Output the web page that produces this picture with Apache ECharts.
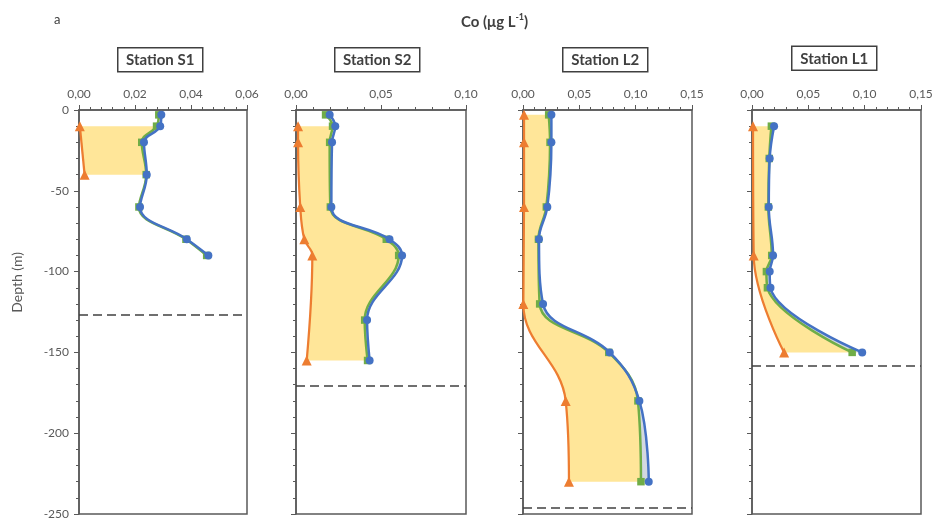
<!DOCTYPE html>
<html>
<head>
<meta charset="utf-8">
<script src="https://cdn.jsdelivr.net/npm/echarts@6/dist/echarts.min.js"></script>
<style>html,body{margin:0;padding:0;background:#fff}#c{width:939px;height:524px}</style>
</head>
<body>
<div id="c"></div>
<script>
// ---- Data ----
const stationNames = ['Station S1', 'Station S2', 'Station L2', 'Station L1'];
const xMax = [0.06, 0.10, 0.15, 0.15];
const xStep = [0.02, 0.05, 0.05, 0.05];
const mixedLayerDepth = [-127, -170.5, -246, -158];

const depthS1 = [-3, -10, -20, -40, -60, -80, -90];
const blueS1  = [0.0294, 0.0290, 0.0232, 0.0242, 0.0218, 0.0385, 0.0462];
const greenS1 = [0.0285, 0.0277, 0.0224, 0.0240, 0.0214, 0.0382, 0.0456];
const orangeDepthS1 = [-10, -40];
const orangeS1 = [0.0003, 0.0020];

const depthS2 = [-3, -10, -20, -60, -80, -90, -130, -155];
const blueS2  = [0.0198, 0.0231, 0.0212, 0.0208, 0.0550, 0.0624, 0.0418, 0.0433];
const greenS2 = [0.0174, 0.0215, 0.0198, 0.0202, 0.0531, 0.0604, 0.0404, 0.0421];
const orangeDepthS2 = [-10, -20, -60, -80, -90, -155];
const orangeS2 = [0.0012, 0.0012, 0.0025, 0.0049, 0.0096, 0.0063];

const depthL2 = [-3, -20, -60, -80, -120, -150, -180, -230];
const blueL2  = [0.0252, 0.0252, 0.0216, 0.0142, 0.0178, 0.0770, 0.1033, 0.1116];
const greenL2 = [0.0228, 0.0240, 0.0207, 0.0137, 0.0148, 0.0761, 0.1020, 0.1047];
const orangeDepthL2 = [-3, -20, -60, -120, -180, -230];
const orangeL2 = [0.0009, 0.0009, 0.0009, 0.0003, 0.0379, 0.0408];

const depthL1 = [-10, -30, -60, -90, -100, -110, -150];
const blueL1  = [0.0196, 0.0157, 0.0149, 0.0187, 0.0157, 0.0164, 0.0978];
const greenL1 = [0.0172, 0.0153, 0.0145, 0.0175, 0.0128, 0.0137, 0.0889];
const orangeDepthL1 = [-10, -90, -150];
const orangeL1 = [0.0009, 0.0015, 0.0285];

// ---- Build ----
const stations = [
  {depth: depthS1, blue: blueS1, green: greenS1, oDepth: orangeDepthS1, orange: orangeS1},
  {depth: depthS2, blue: blueS2, green: greenS2, oDepth: orangeDepthS2, orange: orangeS2},
  {depth: depthL2, blue: blueL2, green: greenL2, oDepth: orangeDepthL2, orange: orangeL2},
  {depth: depthL1, blue: blueL1, green: greenL1, oDepth: orangeDepthL1, orange: orangeL1}
];

const SMOOTH = 0.4;
const gridLeft = [79, 296, 523, 752];
const gridWidth = [168, 170, 169, 169];
const boxLeft = [117, 334, 562, 791];
const boxTop = [47, 47, 47, 45.5];

const AX = '#595959';
const FONT = 'Lato, "Open Sans", sans-serif';

function zip(vals, depths) { return vals.map((v, k) => [v, depths[k]]); }

// mirror of ECharts line smoothing, sampled into points
function sampleSmooth(pts, smooth) {
  const out = [];
  let prevX, prevY, cpx0, cpy0, cpx1, cpy1, nextCpx0, nextCpy0;
  const n = pts.length;
  const N = 20;
  for (let i = 0; i < n; i++) {
    const x = pts[i][0], y = pts[i][1];
    if (i === 0) {
      out.push([x, y]); cpx0 = x; cpy0 = y;
    } else {
      if (i + 1 >= n) {
        cpx1 = x; cpy1 = y; nextCpx0 = x; nextCpy0 = y;
      } else {
        const nextX = pts[i + 1][0], nextY = pts[i + 1][1];
        let vx = nextX - prevX, vy = nextY - prevY;
        const dx0 = x - prevX, dx1 = nextX - x, dy0 = y - prevY, dy1 = nextY - y;
        const lp = Math.sqrt(dx0 * dx0 + dy0 * dy0);
        const ln = Math.sqrt(dx1 * dx1 + dy1 * dy1);
        const r = ln / (ln + lp);
        nextCpx0 = x + vx * smooth * r;
        nextCpy0 = y + vy * smooth * r;
        nextCpx0 = Math.min(nextCpx0, Math.max(nextX, x));
        nextCpy0 = Math.min(nextCpy0, Math.max(nextY, y));
        nextCpx0 = Math.max(nextCpx0, Math.min(nextX, x));
        nextCpy0 = Math.max(nextCpy0, Math.min(nextY, y));
        vx = nextCpx0 - x; vy = nextCpy0 - y;
        cpx1 = x - vx * lp / ln;
        cpy1 = y - vy * lp / ln;
        cpx1 = Math.min(cpx1, Math.max(prevX, x));
        cpy1 = Math.min(cpy1, Math.max(prevY, y));
        cpx1 = Math.max(cpx1, Math.min(prevX, x));
        cpy1 = Math.max(cpy1, Math.min(prevY, y));
        vx = x - cpx1; vy = y - cpy1;
        nextCpx0 = x + vx * ln / lp;
        nextCpy0 = y + vy * ln / lp;
      }
      for (let s = 1; s <= N; s++) {
        const t = s / N, u = 1 - t;
        const bx = u*u*u*prevX + 3*u*u*t*cpx0 + 3*u*t*t*cpx1 + t*t*t*x;
        const by = u*u*u*prevY + 3*u*u*t*cpy0 + 3*u*t*t*cpy1 + t*t*t*y;
        out.push([bx, by]);
      }
      cpx0 = nextCpx0; cpy0 = nextCpy0;
    }
    prevX = x; prevY = y;
  }
  return out;
}

function interpY(q, p, yy) {
  const t = (yy - q[1]) / (p[1] - q[1]);
  return [q[0] + (p[0] - q[0]) * t, yy];
}
function clipY(pts, y0, y1) {
  const out = [];
  for (let i = 0; i < pts.length; i++) {
    const p = pts[i];
    if (i > 0) {
      const q = pts[i - 1];
      if (q[1] < y0 && p[1] > y0) out.push(interpY(q, p, y0));
    }
    if (p[1] >= y0 - 0.01 && p[1] <= y1 + 0.01) out.push(p);
    if (i > 0) {
      const q = pts[i - 1];
      if (q[1] < y1 && p[1] > y1) out.push(interpY(q, p, y1));
    }
  }
  return out;
}

function fillRender(gi) {
  return function (params, api) {
    const st = stations[gi];
    const gp = st.depth.map((d, k) => api.coord([st.green[k], d]));
    const bp = st.depth.map((d, k) => api.coord([st.blue[k], d]));
    const op = st.oDepth.map((d, k) => api.coord([st.orange[k], d]));
    const gs = sampleSmooth(gp, SMOOTH);
    const bs = sampleSmooth(bp, SMOOTH);
    const os = sampleSmooth(op, SMOOTH);
    const yTop = op[0][1], yBot = op[op.length - 1][1];
    const clipped = clipY(gs, yTop, yBot);
    const poly = clipped.concat(os.slice().reverse());
    const gray = bs.concat(gs.slice().reverse());
    return {type: 'group', children: [
      {type: 'polygon', shape: {points: gray}, style: {fill: '#D3D8E0'}, silent: true},
      {type: 'polygon', shape: {points: poly}, style: {fill: '#FFE699'}, silent: true}
    ]};
  };
}

const fmt = v => v.toFixed(2).replace('.', ',');

const grids = [], xAxes = [], yAxes = [], series = [];
stations.forEach((st, i) => {
  grids.push({left: gridLeft[i], width: gridWidth[i], top: 110, height: 404,
    show: true, borderColor: AX, borderWidth: 1.5, backgroundColor: 'transparent'});
  xAxes.push({type: 'value', gridIndex: i, position: 'top', min: 0, max: xMax[i], interval: xStep[i],
    axisLine: {show: true, onZero: false, lineStyle: {color: AX, width: 1.5}},
    axisTick: {show: true, length: 5, lineStyle: {color: AX, width: 1}},
    minorTick: {show: true, splitNumber: 5, length: 3, lineStyle: {color: AX, width: 1}},
    splitLine: {show: false},
    axisLabel: {formatter: fmt, color: AX, fontSize: 12, fontFamily: FONT, margin: 10,
      showMinLabel: true, showMaxLabel: true}});
  yAxes.push({type: 'value', gridIndex: i, min: -250, max: 0, interval: 50,
    axisLine: {show: true, onZero: false, lineStyle: {color: AX, width: 1.5}},
    axisTick: {show: true, length: 5, lineStyle: {color: AX, width: 1}},
    minorTick: {show: true, splitNumber: 5, length: 3, lineStyle: {color: AX, width: 1}},
    splitLine: {show: false},
    axisLabel: {show: i === 0, color: AX, fontSize: 12, fontFamily: FONT, margin: 10}});
  series.push({type: 'custom', coordinateSystem: 'cartesian2d', xAxisIndex: i, yAxisIndex: i,
    data: [[0, 0]], renderItem: fillRender(i), z: 1, silent: true});
  series.push({type: 'line', xAxisIndex: i, yAxisIndex: i, data: zip(st.orange, st.oDepth),
    smooth: SMOOTH, symbol: 'triangle', symbolSize: 10, showAllSymbol: true,
    lineStyle: {color: '#ED7D31', width: 2.25}, itemStyle: {color: '#ED7D31'}, z: 3});
  series.push({type: 'line', xAxisIndex: i, yAxisIndex: i, data: zip(st.green, st.depth),
    smooth: SMOOTH, symbol: 'rect', symbolSize: 7.5, showAllSymbol: true,
    lineStyle: {color: '#70AD47', width: 2.5}, itemStyle: {color: '#70AD47'}, z: 4});
  series.push({type: 'line', xAxisIndex: i, yAxisIndex: i, data: zip(st.blue, st.depth),
    smooth: SMOOTH, symbol: 'circle', symbolSize: 8, showAllSymbol: true,
    lineStyle: {color: '#4472C4', width: 2.5}, itemStyle: {color: '#4472C4'}, z: 5,
    markLine: {symbol: 'none', silent: true, label: {show: false}, animation: false,
      lineStyle: {type: [9, 5], color: '#404040', width: 1.5},
      data: [{yAxis: mixedLayerDepth[i]}]}});
});

const graphics = [
  {type: 'text', left: 54, top: 13, style: {text: 'a', font: '13px ' + FONT, fill: '#404040'}},
  {type: 'text', left: 10, top: 252, rotation: Math.PI / 2,
    style: {text: 'Depth (m)', font: '14px ' + FONT, fill: AX}}
];
stationNames.forEach((s, i) => {
  graphics.push({type: 'group', left: boxLeft[i], top: boxTop[i], children: [
    {type: 'rect', shape: {x: 0, y: 0, width: 85, height: 24},
      style: {fill: '#fff', stroke: '#404040', lineWidth: 1.5}},
    {type: 'text', x: 42.5, y: 12.5, style: {text: s, font: 'bold 15px ' + FONT, fill: '#404040',
      textAlign: 'center', textVerticalAlign: 'middle'}}
  ]});
});

const chart = echarts.init(document.getElementById('c'), null, {renderer: 'canvas'});
chart.setOption({
  animation: false,
  backgroundColor: '#fff',
  title: {
    text: '{a|Co (μg L}{b|-1}{a|)}', left: 456, top: 8,
    textStyle: {rich: {
      a: {fontSize: 15, fontWeight: 'bold', color: '#404040', fontFamily: FONT, lineHeight: 18},
      b: {fontSize: 9, fontWeight: 'bold', color: '#404040', fontFamily: FONT, verticalAlign: 'top', lineHeight: 12}
    }}
  },
  grid: grids, xAxis: xAxes, yAxis: yAxes, series: series, graphic: graphics
});
</script>
</body>
</html>
